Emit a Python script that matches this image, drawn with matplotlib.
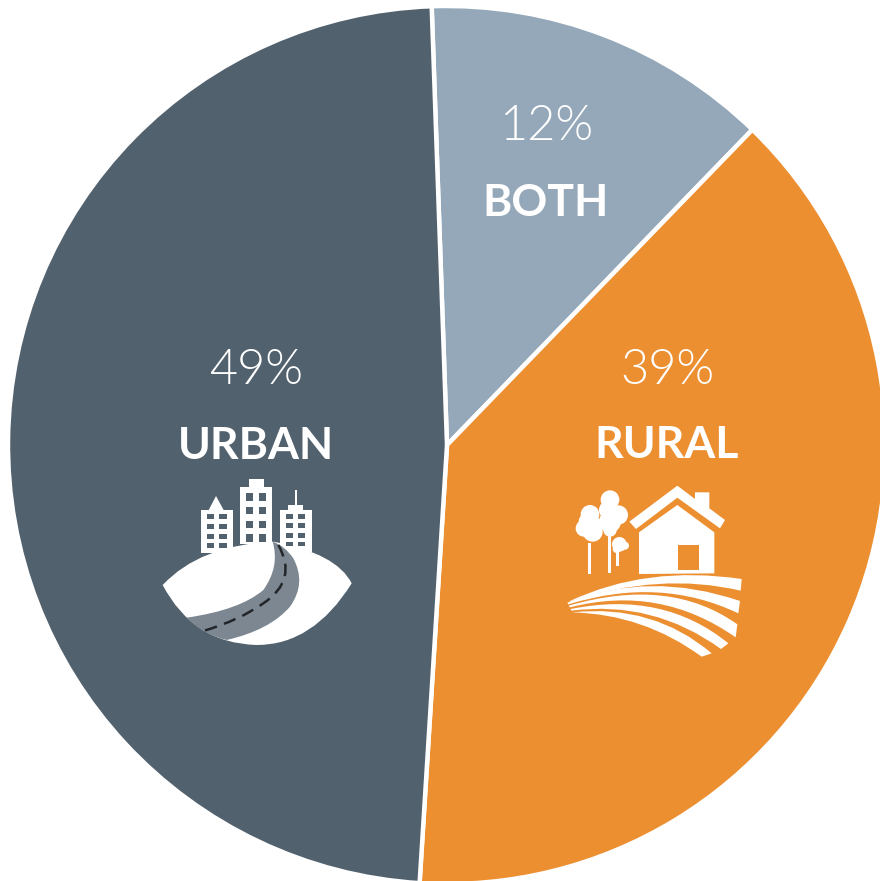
import matplotlib
matplotlib.use("Agg")
import matplotlib.pyplot as plt
from matplotlib.path import Path
from matplotlib.patches import PathPatch, Circle

# slice sizes, printed labels are rounded
categorias = ["BOTH", "RURAL", "URBAN"]
valores = [12.8, 38.75, 48.45]
etiquetas = ["12%", "39%", "49%"]
colores = ["#94a8b9", "#ec8f31", "#52616e"]
pos_etiquetas = [(546, 127, 203), (667, 371, 445), (256, 371, 446)]

plt.rcParams["font.family"] = ["Lato", "DejaVu Sans"]

fig = plt.figure(figsize=(8.8, 8.81), dpi=100)
ax = fig.add_axes([0, 0, 1, 1])

ax.pie(valores, colors=colores, startangle=92, counterclock=False,
       center=(447, -445), radius=439,
       wedgeprops={"edgecolor": "white", "linewidth": 3.2})
ax.set_xlim(0, 880)
ax.set_ylim(-881, 0)
ax.set_aspect("equal")
ax.axis("off")

for i in range(3):
    x, y1, y2 = pos_etiquetas[i]
    ax.text(x, -y1, etiquetas[i], color="white", fontsize=35, fontweight=300,
            ha="center", va="center")
    ax.text(x, -y2, categorias[i], color="white", fontsize=32, fontweight="bold",
            ha="center", va="center")


# iconos: coordenadas de pixel de cada recorte
def conv(p, ox, oy):
    return (ox + p[0] / 3, -(oy + p[1] / 3))


def forma(puntos, ox, oy, color="white"):
    # lista de segmentos: punto inicial y luego (control, fin) cuadraticos o punto recto
    verts = [conv(puntos[0], ox, oy)]
    codes = [Path.MOVETO]
    for s in puntos[1:]:
        if len(s) == 2 and isinstance(s[0], tuple):
            verts += [conv(s[0], ox, oy), conv(s[1], ox, oy)]
            codes += [Path.CURVE3, Path.CURVE3]
        else:
            verts.append(conv(s, ox, oy))
            codes.append(Path.LINETO)
    verts.append(verts[0])
    codes.append(Path.CLOSEPOLY)
    ax.add_patch(PathPatch(Path(verts, codes), facecolor=color, edgecolor="none", zorder=5))


def caja(x0, x1, y0, y1, ox, oy, color="white"):
    forma([(x0, y0), (x1, y0), (x1, y1), (x0, y1)], ox, oy, color)


# ciudad
ox, oy = 150, 470
forma([(38, 345), ((150, 225), (370, 215)), ((560, 250), (605, 340)),
       ((490, 525), (320, 525)), ((130, 520), (38, 345))], ox, oy)
caja(153, 248, 120, 250, ox, oy)
forma([(175, 122), (198, 78), (222, 122)], ox, oy)
caja(270, 367, 52, 222, ox, oy)
caja(297, 342, 27, 52, ox, oy)
caja(389, 486, 120, 245, ox, oy)
caja(414, 460, 105, 120, ox, oy)
caja(435, 441, 60, 105, ox, oy)
for wx in [(170, 192), (208, 230)]:
    for wy in [(133, 148), (163, 178), (192, 207), (220, 235)]:
        caja(wx[0], wx[1], wy[0], wy[1], ox, oy, "#52616e")
for wx in [(288, 310), (326, 348)]:
    for wy in [(70, 92), (111, 133), (152, 174), (193, 215)]:
        caja(wx[0], wx[1], wy[0], wy[1], ox, oy, "#52616e")
for wx in [(407, 428), (444, 466)]:
    for wy in [(133, 148), (160, 175), (188, 203), (216, 228)]:
        caja(wx[0], wx[1], wy[0], wy[1], ox, oy, "#52616e")
forma([(368, 215), ((390, 290), (340, 360)), ((270, 420), (110, 443)),
       ((160, 495), (230, 510)), ((360, 480), (420, 410)),
       ((470, 340), (430, 265)), ((405, 228), (368, 215))], ox, oy, "#7c8791")
p = Path([conv(q, ox, oy) for q in [(385, 225), (445, 330), (340, 400), (270, 450), (160, 483)]],
         [Path.MOVETO, Path.CURVE3, Path.CURVE3, Path.CURVE3, Path.CURVE3])
ax.add_patch(PathPatch(p, facecolor="none", edgecolor="#22262a", linewidth=1.8,
                       linestyle=(0, (5, 3)), zorder=6))

# casa
ox, oy = 560, 475
forma([(208, 140), (352, 32), (405, 72), (405, 52), (448, 52), (448, 100), (495, 135),
       (480, 160), (352, 68), (228, 162)], ox, oy)
forma([(237, 172), (352, 90), (463, 172), (463, 295), (237, 297)], ox, oy)
caja(354, 417, 210, 285, ox, oy, "#ec8f31")
forma([(30, 378), ((260, 270), (545, 312)), (542, 347), ((300, 290), (30, 380))], ox, oy)
forma([(22, 383), ((270, 286), (540, 378)), (535, 415), ((300, 303), (25, 388))], ox, oy)
forma([(26, 392), ((330, 304), (532, 448)), (527, 487), ((300, 328), (30, 397))], ox, oy)
forma([(32, 402), ((310, 346), (505, 505)), (483, 522), ((280, 375), (34, 407))], ox, oy)
forma([(36, 412), ((280, 386), (455, 535)), (425, 545), ((250, 417), (36, 412))], ox, oy)

# arboles
for c in [(90, 118, 28), (82, 140, 26), (72, 160, 25), (98, 170, 30), (112, 150, 20),
          (150, 74, 28), (145, 105, 28), (175, 120, 29), (150, 140, 33), (150, 165, 20),
          (178, 208, 22), (195, 212, 12), (170, 222, 12)]:
    cx, cy = conv(c[:2], ox, oy)
    ax.add_patch(Circle((cx, cy), c[2] / 3, facecolor="white", edgecolor="none", zorder=5))
caja(85, 93, 205, 297, ox, oy)
caja(145, 153, 175, 295, ox, oy)
caja(168, 176, 222, 273, ox, oy)

fig.savefig("out.png", dpi=100, facecolor="white")
